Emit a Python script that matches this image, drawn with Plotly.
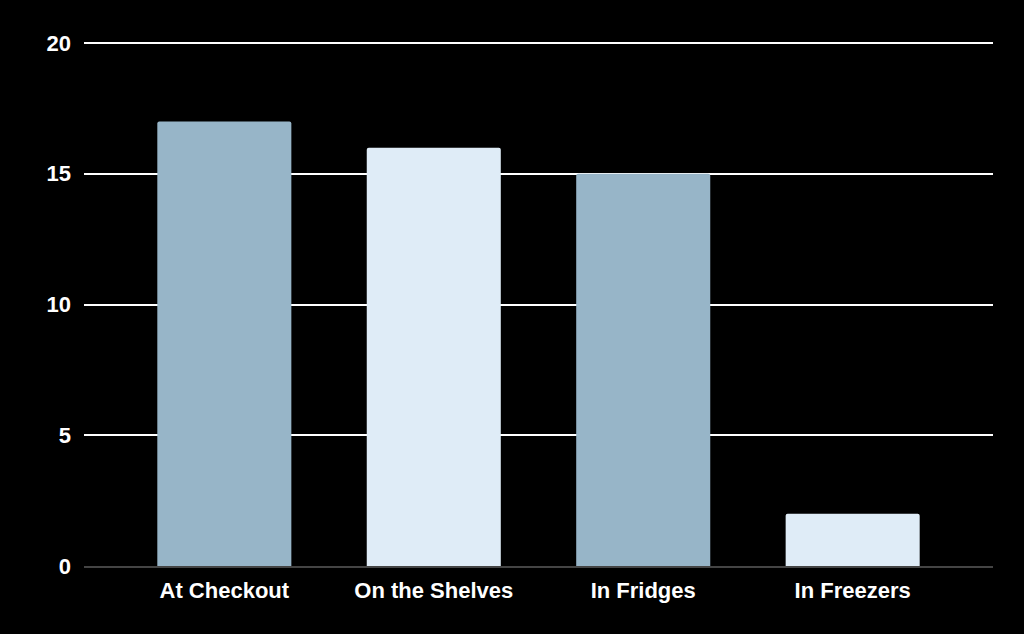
import plotly.graph_objects as go

categories = ["At Checkout", "On the Shelves", "In Fridges", "In Freezers"]
values = [17, 16, 15, 2]
bar_colors = ["#97B5C8", "#DFECF7", "#97B5C8", "#DFECF7"]
y_ticks = [0, 5, 10, 15, 20]

fig = go.Figure(
    go.Bar(
        x=categories,
        y=values,
        marker=dict(color=bar_colors, line=dict(width=0), cornerradius=2),
        hoverinfo="skip",
    )
)

fig.update_layout(
    width=1024,
    height=634,
    paper_bgcolor="#000000",
    plot_bgcolor="#000000",
    margin=dict(l=84, r=31, t=42, b=68),
    bargap=0.36,
    showlegend=False,
    font=dict(family="Liberation Sans, Arial, sans-serif", size=22, color="#FFFFFF", weight="bold"),
)
fig.update_yaxes(
    range=[0, 20.04],
    tickvals=y_ticks,
    showgrid=True,
    gridcolor="#FFFFFF",
    gridwidth=2,
    zeroline=False,
    showline=False,
    ticks="",
    ticklabelstandoff=12,
    tickfont=dict(size=22, color="#FFFFFF", weight="bold"),
)
fig.update_xaxes(
    range=[-0.67, 3.67],
    showgrid=False,
    showline=True,
    linecolor="#444444",
    linewidth=2,
    ticks="",
    ticklabelstandoff=4,
    tickfont=dict(size=22, color="#FFFFFF", weight="bold"),
)

fig.write_html(
    "out.html",
    config={"displayModeBar": False},
    post_script="document.body.style.margin='0';document.body.style.background='#000';",
)
